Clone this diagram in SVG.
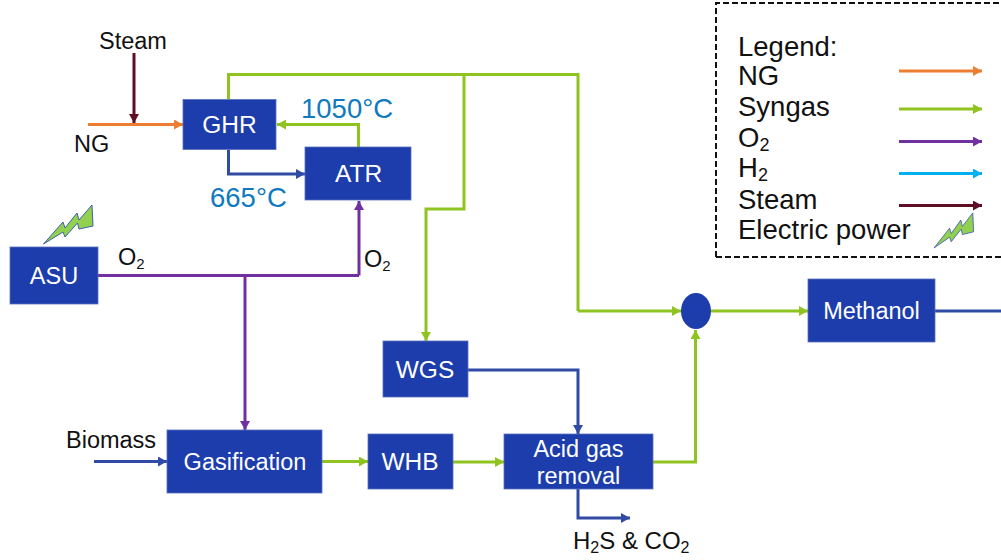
<svg xmlns="http://www.w3.org/2000/svg" width="1001" height="560" viewBox="0 0 1001 560">
<defs>
<marker id="mO" markerUnits="userSpaceOnUse" markerWidth="10" markerHeight="10" refX="9" refY="5" orient="auto"><path d="M0 0L9 5L0 10Z" fill="#ed7d31"/></marker>
<marker id="mG" markerUnits="userSpaceOnUse" markerWidth="10" markerHeight="10" refX="9" refY="5" orient="auto"><path d="M0 0L9 5L0 10Z" fill="#8fc31f"/></marker>
<marker id="mP" markerUnits="userSpaceOnUse" markerWidth="10" markerHeight="10" refX="9" refY="5" orient="auto"><path d="M0 0L9 5L0 10Z" fill="#7030a0"/></marker>
<marker id="mC" markerUnits="userSpaceOnUse" markerWidth="10" markerHeight="10" refX="9" refY="5" orient="auto"><path d="M0 0L9 5L0 10Z" fill="#00b0f0"/></marker>
<marker id="mS" markerUnits="userSpaceOnUse" markerWidth="10" markerHeight="10" refX="9" refY="5" orient="auto"><path d="M0 0L9 5L0 10Z" fill="#5f0f25"/></marker>
<marker id="mB" markerUnits="userSpaceOnUse" markerWidth="10" markerHeight="10" refX="9" refY="5" orient="auto"><path d="M0 0L9 5L0 10Z" fill="#2f4ba5"/></marker>
<path id="bolt" d="M0 0L19.500-22L21.500-16L33.500-31L35.500-24L48.500-39L49.500-18L35.500-15L34-21L21.500-7L19.500-12Z" fill="#92d050" stroke="#3f5fa8" stroke-width="1"/>
</defs>
<style>
.box{fill:#1c3dab;stroke:#5a70bb;stroke-width:.8}
.c{fill:none;stroke-width:3}
.o{stroke:#ed7d31;marker-end:url(#mO)}
.g{stroke:#8fc31f;marker-end:url(#mG)}
.gn{stroke:#8fc31f}
.p{stroke:#7030a0;marker-end:url(#mP)}
.pn{stroke:#7030a0}
.a{stroke:#00b0f0;marker-end:url(#mC)}
.s{stroke:#5f0f25;marker-end:url(#mS)}
.b{stroke:#2f4ba5;marker-end:url(#mB)}
text{font-family:"Liberation Sans",Arial,sans-serif}
.w{fill:#fff;font-size:23.5px;text-anchor:middle}
.w2{font-size:24.5px}
.k{fill:#111;font-size:23.5px}
.l{fill:#111;font-size:27.500px}
.t{fill:#0f7ac0;font-size:27.500px}
</style>
<g id="connectors">
<path class="c o" d="M88 124.500H183"/>
<path class="c s" d="M134 53V123"/>
<path class="c gn" d="M228.500 99V74.500H578V311"/>
<path class="c g" d="M578 311H681"/>
<path class="c g" d="M464 74.500V209H426V341"/>
<path class="c g" d="M358.500 147V124.500H277"/>
<path class="c b" d="M228.500 150V174H305"/>
<path class="c pn" d="M98 275.500H359"/>
<path class="c p" d="M359 275.500V201"/>
<path class="c p" d="M245 275.500V430"/>
<path class="c b" d="M94 461.500H167"/>
<path class="c g" d="M322 461.500H368"/>
<path class="c g" d="M453 462H504"/>
<path class="c b" d="M468 370H578V434"/>
<path class="c g" d="M653 462H695.500V330"/>
<path class="c b" d="M578 489V518H630"/>
<path class="c g" d="M711 311H808"/>
<path class="c" stroke="#2f4ba5" d="M935 311H1001"/>
</g>
<g id="GHR"><rect class="box" x="183" y="99.500" width="93" height="50"/><text class="w w2" x="229.500" y="133">GHR</text></g>
<g id="ATR"><rect class="box" x="305" y="147" width="106" height="53"/><text class="w w2" x="358.500" y="182">ATR</text></g>
<g id="ASU"><rect class="box" x="10" y="247" width="88" height="57"/><text class="w" x="54" y="284">ASU</text><use href="#bolt" x="43.500" y="244"/></g>
<g id="Gasification"><rect class="box" x="167" y="430" width="155" height="63"/><text class="w" x="245" y="470">Gasification</text></g>
<g id="WHB"><rect class="box" x="368" y="434" width="85" height="55"/><text class="w w2" x="410" y="470">WHB</text></g>
<g id="Acid"><rect class="box" x="504" y="434" width="149" height="55"/><text class="w" x="578.500" y="457">Acid gas</text><text class="w" x="578.500" y="484">removal</text></g>
<g id="WGS"><rect class="box" x="383" y="341" width="85" height="56"/><text class="w w2" x="425" y="378">WGS</text></g>
<g id="Methanol"><rect class="box" x="808" y="279" width="127" height="63"/><text class="w" x="871.500" y="319">Methanol</text></g>
<g id="Mixer"><ellipse cx="696" cy="311" rx="15" ry="18" fill="#1c3dab"/></g>
<g id="labels">
<text class="k" x="133" y="49" text-anchor="middle">Steam</text>
<text class="k" x="74" y="152">NG</text>
<text class="k" x="66" y="448">Biomass</text>
<text class="k" x="118" y="265">O<tspan font-size="15" dy="4">2</tspan></text>
<text class="k" x="364" y="267">O<tspan font-size="15" dy="4">2</tspan></text>
<text class="k" x="573" y="549" font-size="24" style="font-size:24px">H<tspan font-size="16" style="font-size:16px" dy="4">2</tspan><tspan dy="-4">S &amp; CO</tspan><tspan font-size="16" style="font-size:16px" dy="4">2</tspan></text>
<text class="t" x="301" y="118">1050°C</text>
<text class="t" x="210" y="207">665°C</text>
</g>
<g id="legend">
<path d="M716 257V3H1001M716 257H1001" fill="none" stroke="#111" stroke-width="2" stroke-dasharray="6 3"/>
<text class="l" x="738" y="55.500">Legend:</text>
<text class="l" x="738" y="85">NG</text>
<text class="l" x="738" y="116">Syngas</text>
<text class="l" x="738" y="147">O<tspan font-size="18" dy="4">2</tspan></text>
<text class="l" x="738" y="177">H<tspan font-size="18" dy="4">2</tspan></text>
<text class="l" x="738" y="209">Steam</text>
<text class="l" x="738" y="239">Electric power</text>
<path class="c o" d="M899 71H982"/>
<path class="c g" d="M899 109H982"/>
<path class="c p" d="M899 141.500H982"/>
<path class="c a" d="M899 173.500H982"/>
<path class="c s" d="M899 205.500H982"/>
<use href="#bolt" transform="translate(934 248) scale(.8 .9)"/>
</g>
</svg>
